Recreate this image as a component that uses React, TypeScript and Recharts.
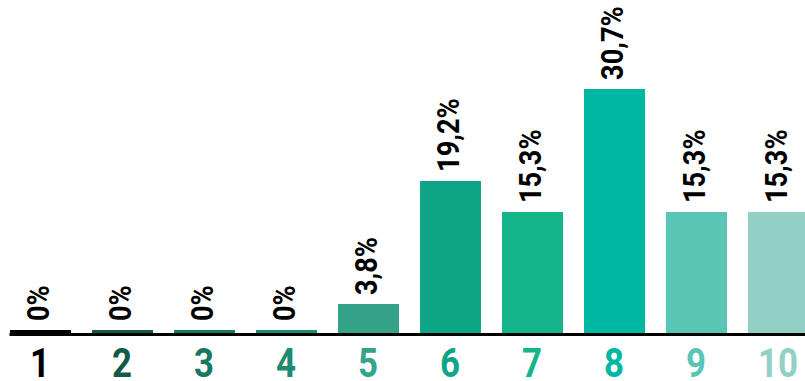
import React from "react";
import { BarChart, Bar, XAxis, YAxis, Cell, LabelList } from "recharts";

const categories = ["1", "2", "3", "4", "5", "6", "7", "8", "9", "10"];
const shares = [0, 0, 0, 0, 3.8, 19.2, 15.3, 30.7, 15.3, 15.3];
const valueLabels = ["0%", "0%", "0%", "0%", "3,8%", "19,2%", "15,3%", "30,7%", "15,3%", "15,3%"];
const colors = [
  "#000000",
  "#145a48",
  "#177a60",
  "#1f8a6f",
  "#34a38a",
  "#0da586",
  "#15b48b",
  "#00b8a2",
  "#5ac5b5",
  "#92d0c6",
];

const data = categories.map((name, i) => ({
  name,
  value: shares[i],
  label: valueLabels[i],
  color: colors[i],
}));

// no condensed face installed, so squeeze Roboto bold a bit
const FONT = "Roboto, 'DejaVu Sans', sans-serif";
const SQUEEZE = 0.85;

function ValueLabel(props: any) {
  const { x, y, width, index } = props;
  const bx = x + width / 2 + 8;
  const by = y - 9;
  return (
    <g transform={`translate(${bx} ${by}) rotate(-90) scale(${SQUEEZE} 1)`}>
      <text x={0} y={0} textAnchor="start" fill="#000" fontFamily={FONT} fontWeight={700} fontSize={32}>
        {data[index].label}
      </text>
    </g>
  );
}

function Tick(props: any) {
  const { x, payload, index } = props;
  return (
    <g transform={`translate(${x} 377) scale(${SQUEEZE} 1)`}>
      <text x={0} y={0} textAnchor="middle" fill={colors[index]} fontFamily={FONT} fontWeight={700} fontSize={41}>
        {payload.value}
      </text>
    </g>
  );
}

export default function App() {
  return (
    <div style={{ position: "absolute", left: -1.5, top: 0 }}>
      <BarChart
        width={820}
        height={381}
        data={data}
        margin={{ top: 14.5, right: 0, bottom: 0, left: 0 }}
        barSize={61}
      >
        <YAxis hide domain={[0, 40]} />
        <XAxis
          dataKey="name"
          height={46.5}
          tickLine={false}
          interval={0}
          tick={<Tick />}
          axisLine={{ stroke: "#000", strokeWidth: 3, strokeDasharray: "0 10.5 10000" }}
        />
        <Bar dataKey="value" minPointSize={4.5} isAnimationActive={false}>
          {data.map((d, i) => (
            <Cell key={`cell-${i}`} fill={d.color} />
          ))}
          <LabelList dataKey="label" content={<ValueLabel />} />
        </Bar>
      </BarChart>
    </div>
  );
}
